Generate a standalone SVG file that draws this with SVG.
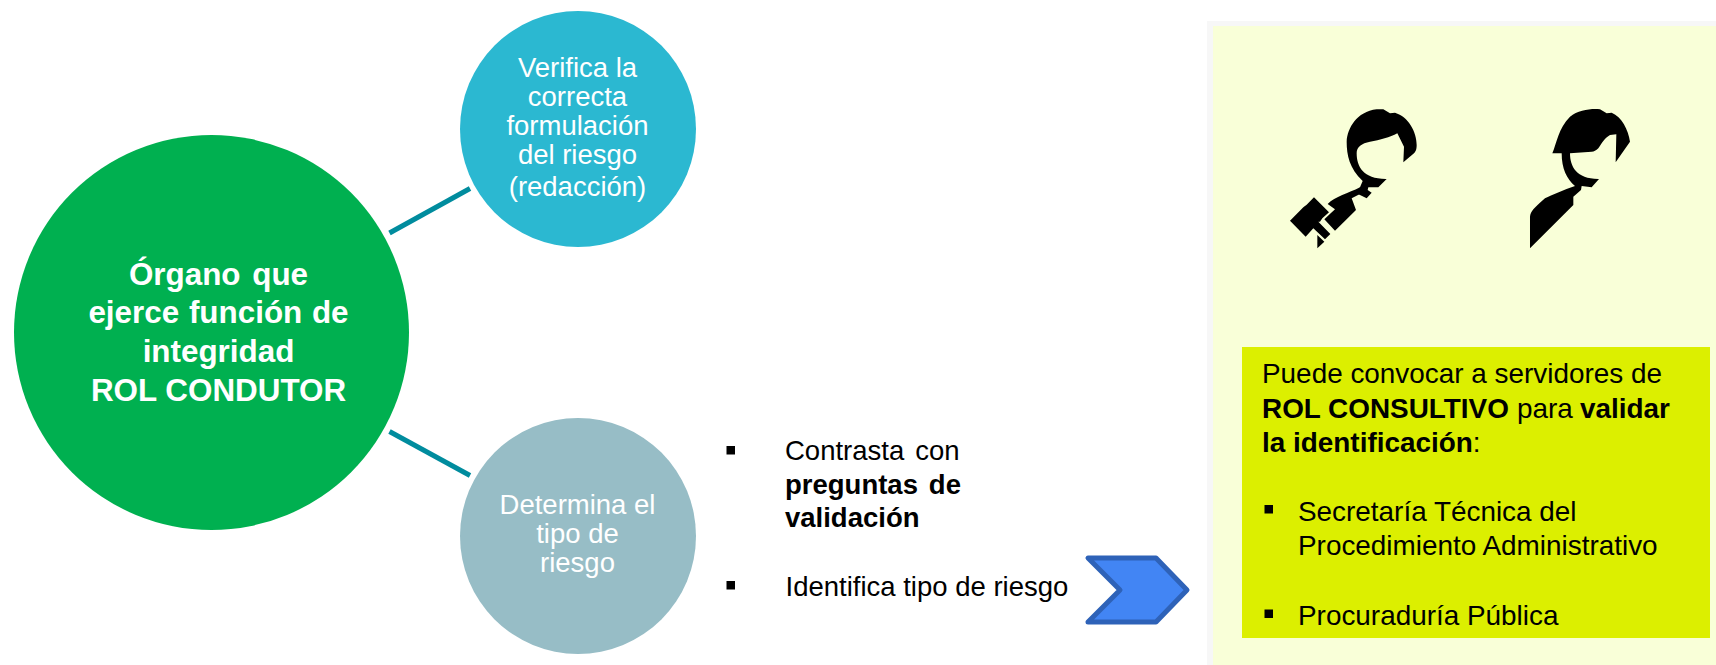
<svg xmlns="http://www.w3.org/2000/svg" width="1716" height="665" viewBox="0 0 1716 665">
<style>
text{font-family:"Liberation Sans",Arial,sans-serif}
.w{fill:#fff;font-size:27.5px;text-anchor:middle}
.h{fill:#fff;font-size:31.4px;font-weight:700;text-anchor:middle}
.k{fill:#000;font-size:27.5px}
.p{fill:#000;font-size:27.9px}
.b{font-weight:700}
.c{stroke:#008C9E;stroke-width:5;fill:none}
.bul{fill:#000}
</style>
<rect width="1716" height="665" fill="#fff"/>
<g id="panel"><rect x="1207" y="21" width="509" height="644" fill="#F7F7F7"/><rect x="1213" y="26" width="503" height="639" fill="#F9FFD8"/></g>
<g id="connectors"><line class="c" x1="389.5" y1="233" x2="470" y2="188.5"/><line class="c" x1="389.5" y1="431.5" x2="470" y2="475.5"/></g>
<g id="node-main"><circle cx="211.5" cy="332.5" r="197.5" fill="#00B050"/>
<text class="h" x="218.5" y="284.5" word-spacing="3">Órgano que</text><text class="h" x="218.5" y="323" word-spacing="1">ejerce función de</text><text class="h" x="218.5" y="362">integridad</text><text class="h" x="218.5" y="400.5">ROL CONDUTOR</text></g>
<g id="node-verifica"><circle cx="578" cy="129" r="118" fill="#2BB8D1"/>
<text class="w" x="577.5" y="76.5">Verifica la</text><text class="w" x="577.5" y="105.5">correcta</text><text class="w" x="577.5" y="134.5">formulación</text><text class="w" x="577.5" y="163.5">del riesgo</text><text class="w" x="577.5" y="195.5">(redacción)</text></g>
<g id="node-determina"><circle cx="578" cy="536" r="118" fill="#97BDC6"/>
<text class="w" x="577.5" y="514">Determina el</text><text class="w" x="577.5" y="542.5">tipo de</text><text class="w" x="577.5" y="571.5">riesgo</text></g>
<g id="list-contrasta">
<rect class="bul" x="726.5" y="446" width="8.5" height="8.5"/><text class="k" x="785" y="460" word-spacing="3.3">Contrasta con</text>
<text class="k b" x="785" y="493.5" word-spacing="3.3">preguntas de</text><text class="k b" x="785" y="527">validación</text>
<rect class="bul" x="726.5" y="581" width="8.5" height="8.5"/><text class="k" x="785.5" y="595.5">Identifica tipo de riesgo</text></g>
<g id="node-chevron"><path d="M1088 558H1156L1187 590L1156 622H1088L1120 590Z" fill="#4285F4" stroke="#2E62B8" stroke-width="5" stroke-linejoin="round"/></g>
<g id="icon-judge" fill="#000">
<path transform="translate(1285 180) scale(.33333)" d="M15 122L55 82L65 74L87 52L132 97L112 115L105 125L100 125L136 162L120 178L85 145L62 170ZM97 165L118 185L97 205ZM225 22L245 50L225 42L200 55L213 90L150 152L118 118L150 88L128 72C150 50 190 40 225 22Z"/>
<path transform="translate(1340 100) scale(.33333)" d="M20 125C22 85 50 35 110 28L130 28L150 40L165 38C205 50 230 95 230 135C230 150 226 155 222 160L190 187L192 140L172 100C150 112 120 120 90 125C65 130 50 140 50 160C50 200 70 238 140 237L115 262L85 262L83 270L95 278L80 295L60 285L50 280L60 262L68 243C28 205 20 165 20 125Z"/>
</g>
<g id="icon-officer" transform="translate(1520 100) scale(.33333)" fill="#000">
<path d="M97 160C110 130 115 85 150 50C175 30 215 25 240 28L260 40L275 38C305 50 325 90 330 125L287 187L289 103L270 105C255 113 245 130 235 145C228 152 222 155 215 155L150 160C150 200 170 238 237 237L215 262L185 258L183 270L160 290L160 315L30 445L30 350C32 335 40 325 75 295C100 283 130 270 165 258C140 238 125 205 125 160Z"/>
</g>
<g id="node-consultivo"><rect x="1242" y="347" width="468" height="291" fill="#DCEF00"/>
<text class="p" x="1262" y="383">Puede convocar a servidores de</text>
<text class="p" x="1262" y="417.5"><tspan class="b">ROL CONSULTIVO</tspan><tspan x="1517">para</tspan><tspan class="b" x="1580">validar</tspan></text>
<text class="p" x="1262" y="451.5"><tspan class="b">la identificación</tspan>:</text>
<rect class="bul" x="1264.5" y="505" width="8.5" height="8.5"/><text class="p" x="1298" y="520.5">Secretaría Técnica del</text><text class="p" x="1298" y="554.5">Procedimiento Administrativo</text>
<rect class="bul" x="1264.5" y="609.5" width="8.5" height="8.5"/><text class="p" x="1298" y="624.5">Procuraduría Pública</text></g>
</svg>
